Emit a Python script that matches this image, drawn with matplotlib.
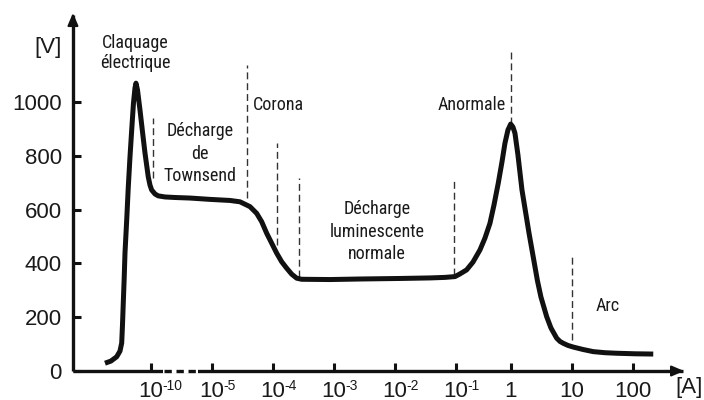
import matplotlib
matplotlib.use("Agg")
import matplotlib.pyplot as plt
from matplotlib import font_manager

# ---------------- data ----------------
# x positions are in "axis position" units: one unit per labelled tick
tick_pos = [0, 1, 2, 3, 4, 5, 5.9, 6.9, 7.9]
tick_base = ["10", "10", "10", "10", "10", "10", "1", "10", "100"]
tick_exp = ["-10", "-5", "-4", "-3", "-2", "-1", "", "", ""]
y_ticks = [0, 200, 400, 600, 800, 1000]

curve_x = [-0.754, -0.656, -0.562, -0.508, -0.480, -0.467, -0.454, -0.439, -0.426,
           -0.398, -0.372, -0.344, -0.316, -0.287, -0.262, -0.246, -0.221, -0.180,
           -0.139, -0.098, -0.044, -0.016, 0.011, 0.066, 0.120, 0.230, 0.393, 0.639,
           0.967, 1.295, 1.459, 1.623, 1.733, 1.815, 1.897, 1.979, 2.061, 2.143,
           2.225, 2.307, 2.389, 2.470, 2.934, 3.426, 4.082, 4.574, 4.820, 4.984,
           5.066, 5.175, 5.279, 5.393, 5.475, 5.557, 5.623, 5.693, 5.754, 5.803,
           5.852, 5.897, 5.934, 5.967, 6.016, 6.082, 6.197, 6.336, 6.393, 6.487,
           6.557, 6.651, 6.705, 6.759, 6.836, 6.923, 7.082, 7.251, 7.443, 7.634,
           7.934, 8.234]
curve_v = [29, 37, 53, 74, 104, 171, 253, 346, 439,
           561, 684, 796, 896, 996, 1052, 1070, 1045, 970,
           889, 810, 721, 691, 673, 658, 651, 647, 645, 643,
           638, 634, 629, 611, 586, 555, 512, 475, 438, 406,
           382, 360, 345, 341, 340, 342, 344, 346, 348, 351,
           361, 376, 405, 450, 494, 549, 617, 698, 777, 847,
           896, 918, 907, 884, 803, 673, 513, 335, 275, 202,
           160, 122, 110, 103, 95, 89, 80, 72, 68, 66,
           64, 63]

boundary_x = [0.03, 1.58, 2.06, 2.43, 4.97, 5.90, 6.91]
boundary_lo = [717, 643, 468, 349, 357, 918, 115]
boundary_hi = [940, 1138, 848, 717, 717, 1197, 424]

labels = ["Claquage\nélectrique", "Décharge\nde\nTownsend", "Corona", "Anormale",
          "Décharge\nluminescente\nnormale", "Arc"]
label_x = [-0.262, 0.803, 1.672, 5.82, 3.705, 7.492]
label_y = [1182, 807, 989, 989, 517, 242]
label_ha = ["center", "center", "left", "right", "center", "center"]
label_spacing = [1.2, 1.32, 1.2, 1.2, 1.32, 1.2]

y_unit = "[V]"
x_unit = "[A]"

# ---------------- style ----------------
available = {f.name for f in font_manager.fontManager.ttflist}
narrow_font = "Liberation Sans"
for cand in ["Liberation Sans Narrow", "Arial Narrow", "Roboto Condensed",
             "PT Sans Narrow", "Archivo Narrow", "Open Sans Condensed"]:
    if cand in available:
        narrow_font = cand
        break
narrow_size = 13 if narrow_font != "Liberation Sans" else 11
plt.rcParams["font.family"] = ["Liberation Sans", "DejaVu Sans"]

ink = "#111111"
x_axis_start = -1.279
x_axis_end = 8.72
y_axis_top = 1323

fig = plt.figure(figsize=(7.04, 4.0), dpi=100)
ax = fig.add_axes([0, 0, 1, 1])
ax.set_xlim(-2.475, 9.066)
ax.set_ylim(-107.8, 1379.2)
ax.patch.set_alpha(0)

for s in ["top", "right"]:
    ax.spines[s].set_visible(False)
ax.spines["left"].set_position(("data", x_axis_start))
ax.spines["left"].set_bounds(0, y_axis_top)
ax.spines["bottom"].set_position(("data", 0))
ax.spines["bottom"].set_bounds(x_axis_start, x_axis_end)
for s in ["left", "bottom"]:
    ax.spines[s].set_linewidth(2.4)
    ax.spines[s].set_color(ink)
    ax.spines[s].set_capstyle("butt")

ax.set_yticks(y_ticks)
ax.set_yticklabels([str(v) for v in y_ticks])
ax.set_xticks(tick_pos)
ax.set_xticklabels(tick_base)
ax.tick_params(axis="both", direction="in", width=2.2, color=ink,
               labelsize=16, labelcolor="#1a1a1a")
ax.tick_params(axis="y", length=5.5, pad=8)
ax.tick_params(axis="x", length=6, pad=7.5)

# axis break on the x axis
ax.plot([0.197, 0.77], [0, 0], color="white", lw=4, solid_capstyle="butt", zorder=3)
ax.plot([0.22, 0.77], [0, 0], color=ink, lw=2.4, dashes=(2.2, 1.4),
        dash_capstyle="butt", zorder=4)

# arrow heads
arrow = dict(arrowstyle="-|>,head_length=0.75,head_width=0.32", color=ink,
             lw=1.5, shrinkA=0, shrinkB=0)
ax.annotate("", xy=(x_axis_start, y_axis_top + 8), xytext=(x_axis_start, y_axis_top - 40),
            arrowprops=arrow, annotation_clip=False)
ax.annotate("", xy=(x_axis_end + 0.02, 0), xytext=(x_axis_end - 0.3, 0),
            arrowprops=arrow, annotation_clip=False)

# exponents of tick labels
for p, e in zip(tick_pos, tick_exp):
    if e:
        ax.annotate(e, xy=(p, 0), xytext=(8.3, -5.5), textcoords="offset points",
                    ha="left", va="top", fontsize=10, color="#1a1a1a")

# region boundaries
for bx, lo, hi in zip(boundary_x, boundary_lo, boundary_hi):
    ax.plot([bx, bx], [lo, hi], color="#333333", lw=1.0, dashes=(5, 2.8), zorder=2)

# characteristic curve
ax.plot(curve_x, curve_v, color=ink, lw=3.6, solid_joinstyle="round",
        solid_capstyle="butt", zorder=5)

# region labels
for t, lx, ly, ha, ls in zip(labels, label_x, label_y, label_ha, label_spacing):
    ax.text(lx, ly, t, ha=ha, va="center", multialignment="center",
            fontsize=narrow_size, family=[narrow_font, "DejaVu Sans"],
            color="#1a1a1a", linespacing=ls)

ax.text(-1.689, 1204, y_unit, ha="center", va="center", fontsize=16, color="#1a1a1a")
ax.text(8.82, -63, x_unit, ha="center", va="center", fontsize=16, color="#1a1a1a")

fig.savefig("out.png", dpi=100)
